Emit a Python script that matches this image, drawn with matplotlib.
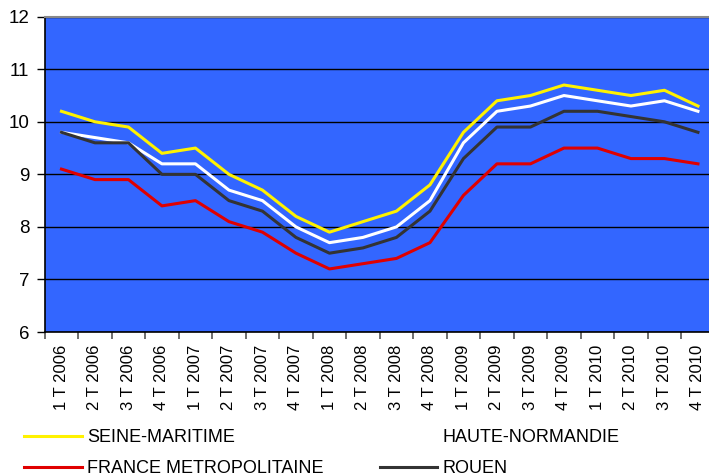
import matplotlib
matplotlib.use("Agg")
import matplotlib.pyplot as plt
import numpy as np

plt.rcParams["font.family"] = ["Liberation Sans", "DejaVu Sans"]

quarters = [f"{q} T {y}" for y in range(2006, 2011) for q in range(1, 5)]

seine_maritime = [10.2, 10.0, 9.9, 9.4, 9.5, 9.0, 8.7, 8.2, 7.9, 8.1,
                  8.3, 8.8, 9.8, 10.4, 10.5, 10.7, 10.6, 10.5, 10.6, 10.3]
haute_normandie = [9.8, 9.7, 9.6, 9.2, 9.2, 8.7, 8.5, 8.0, 7.7, 7.8,
                   8.0, 8.5, 9.6, 10.2, 10.3, 10.5, 10.4, 10.3, 10.4, 10.2]
france_metro = [9.1, 8.9, 8.9, 8.4, 8.5, 8.1, 7.9, 7.5, 7.2, 7.3,
                7.4, 7.7, 8.6, 9.2, 9.2, 9.5, 9.5, 9.3, 9.3, 9.2]
rouen = [9.8, 9.6, 9.6, 9.0, 9.0, 8.5, 8.3, 7.8, 7.5, 7.6,
         7.8, 8.3, 9.3, 9.9, 9.9, 10.2, 10.2, 10.1, 10.0, 9.8]

series = [
    ("SEINE-MARITIME", seine_maritime, "#FFF200"),
    ("HAUTE-NORMANDIE", haute_normandie, "#FFFFFF"),
    ("FRANCE METROPOLITAINE", france_metro, "#E00000"),
    ("ROUEN", rouen, "#333333"),
]

fig = plt.figure(figsize=(7.09, 4.75), dpi=100)
# plot area runs past the right edge of the picture, as in the original
ax = fig.add_axes([44.7 / 709, 1 - 332 / 475, 670 / 709, (332 - 16.7) / 475])
ax.set_facecolor("#3366FF")

x = np.arange(len(quarters))
lines = {}
for name, vals, color in series:
    (ln,) = ax.plot(x, vals, color=color, lw=2.2, label=name, zorder=3)
    lines[name] = ln

ax.set_xlim(-0.5, len(quarters) - 0.5)
ax.set_ylim(6, 12)
ax.set_yticks(range(6, 13))
ax.yaxis.grid(True, color="black", lw=1)
ax.set_axisbelow(True)

ax.set_xticks(x)
ax.set_xticklabels(quarters, rotation=90, fontsize=12, va="top", ha="center")
ax.set_xticks(np.arange(-0.5, len(quarters)), minor=True)
ax.tick_params(axis="x", which="major", length=0, pad=9)
ax.tick_params(axis="x", which="minor", length=5, color="#555555", width=1.2)
ax.tick_params(axis="y", length=6, width=1, pad=5, labelsize=13.5)

for side in ("left", "bottom"):
    ax.spines[side].set_color("black")
    ax.spines[side].set_linewidth(1.2)
ax.spines["top"].set_color("#888888")
ax.spines["top"].set_linewidth(1.5)
ax.spines["right"].set_visible(False)

order = ["SEINE-MARITIME", "FRANCE METROPOLITAINE", "HAUTE-NORMANDIE", "ROUEN"]
fig.legend(
    [lines[n] for n in order], order,
    ncol=2, frameon=False, fontsize=13,
    loc="upper left", bbox_to_anchor=(24 / 709, 1 - 429 / 475),
    handlelength=3.2, handletextpad=0.3, columnspacing=3.1,
    labelspacing=0.8, borderaxespad=0, borderpad=0,
)

fig.savefig("out.png", dpi=100)
